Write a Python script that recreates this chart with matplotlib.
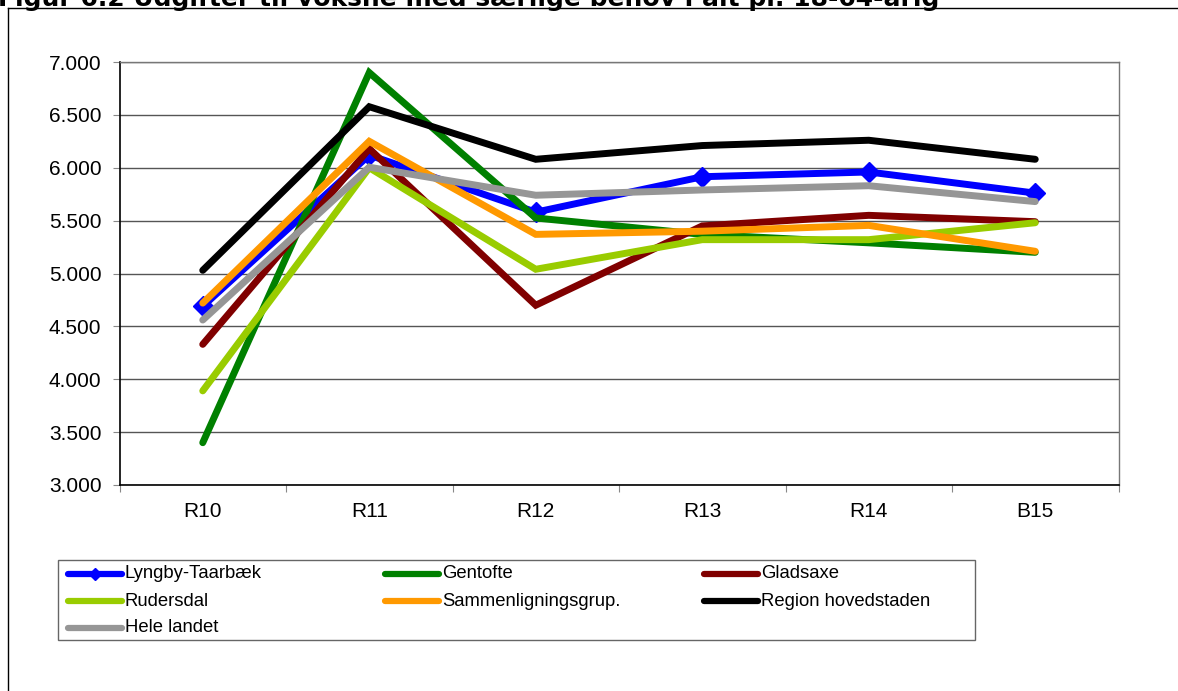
import matplotlib
matplotlib.use("Agg")
import matplotlib.pyplot as plt
from matplotlib.lines import Line2D
from matplotlib.ticker import FuncFormatter, FixedLocator, NullFormatter

categories = ["R10", "R11", "R12", "R13", "R14", "B15"]

lyngby = [4690, 6120, 5580, 5915, 5960, 5760]
gentofte = [3400, 6900, 5525, 5370, 5290, 5200]
gladsaxe = [4330, 6180, 4700, 5450, 5550, 5490]
rudersdal = [3890, 6000, 5040, 5320, 5320, 5480]
sammenl = [4720, 6250, 5370, 5400, 5455, 5210]
region = [5030, 6577, 6080, 6210, 6260, 6080]
hele = [4560, 6005, 5740, 5790, 5830, 5680]

series_names = ["Lyngby-Taarbæk", "Gentofte", "Gladsaxe", "Rudersdal",
                "Sammenligningsgrup.", "Region hovedstaden", "Hele landet"]
series_values = [lyngby, gentofte, gladsaxe, rudersdal, sammenl, region, hele]
colors = ["#0000FF", "#008000", "#800000", "#99CC00", "#FF9900", "#000000", "#969696"]

title = "Figur 6.2 Udgifter til voksne med særlige behov i alt pr. 18-64-årig"

plt.rcParams['font.family'] = ['Liberation Sans', 'DejaVu Sans']

W, H = 1178, 691
fig = plt.figure(figsize=(W / 100, H / 100), dpi=100)

# outer frame (top and left visible)
fig.add_artist(Line2D([8 / W, 1.01], [1 - 8 / H, 1 - 8 / H], transform=fig.transFigure,
                      color="black", lw=1))
fig.add_artist(Line2D([8 / W, 8 / W], [-0.01, 1 - 8 / H], transform=fig.transFigure,
                      color="black", lw=1))

# title, cut off at the top edge as in the reference
fig.text(-2 / W, 1 - 6 / H, title, fontsize=18, fontweight="bold",
         family=["DejaVu Sans"], va="baseline", ha="left")

ax = fig.add_axes([119.5 / W, 1 - 485 / H, 999 / W, 423 / H])
x = list(range(len(categories)))

draw_order = [1, 3, 2, 6, 0, 4, 5]
for i in draw_order:
    if i == 0:
        ax.plot(x, series_values[i], color=colors[i], lw=5, marker="D",
                markersize=10, solid_capstyle="round", zorder=3 + i * 0.1)
    else:
        ax.plot(x, series_values[i], color=colors[i], lw=5,
                solid_capstyle="round", solid_joinstyle="miter", zorder=3 + i * 0.1)

ax.set_xlim(-0.5, len(categories) - 0.5)
ax.set_ylim(3000, 7000)
ax.set_yticks(range(3000, 7001, 500))
ax.yaxis.set_major_formatter(FuncFormatter(lambda v, p: f"{int(v):,}".replace(",", ".")))
ax.grid(axis="y", color="#555555", lw=1)
ax.set_axisbelow(True)

ax.xaxis.set_major_locator(FixedLocator([i - 0.5 for i in range(len(categories) + 1)]))
ax.xaxis.set_major_formatter(NullFormatter())
ax.xaxis.set_minor_locator(FixedLocator(x))
ax.set_xticklabels(categories, minor=True)
ax.tick_params(axis="x", which="minor", length=0, labelsize=15, pad=12)
ax.tick_params(axis="x", which="major", length=5, color="#888888", direction="out")
ax.tick_params(axis="y", length=5, color="#888888", labelsize=15, pad=8)

for s in ["left", "bottom"]:
    ax.spines[s].set_color("black")
    ax.spines[s].set_linewidth(1.2)
for s in ["top", "right"]:
    ax.spines[s].set_color("#777777")
    ax.spines[s].set_linewidth(1)

# legend box drawn in figure coordinates
lx0, ly0, lx1, ly1 = 58, 560, 975, 640
fig.add_artist(plt.Rectangle((lx0 / W, 1 - ly1 / H), (lx1 - lx0) / W, (ly1 - ly0) / H,
                             transform=fig.transFigure, fill=False, edgecolor="#666666", lw=1))
col_x = [68, 385, 704]
row_y = [574, 601, 628]
for k, (name, c) in enumerate(zip(series_names, colors)):
    r, cc = divmod(k, 3)
    xs = col_x[cc]
    yy = 1 - row_y[r] / H
    fig.add_artist(Line2D([xs / W, (xs + 54) / W], [yy, yy], transform=fig.transFigure,
                          color=c, lw=4.5, solid_capstyle="round"))
    if k == 0:
        fig.add_artist(Line2D([(xs + 27) / W], [yy], transform=fig.transFigure,
                              color=c, marker="D", markersize=6, lw=0))
    fig.text((xs + 57) / W, yy, name, fontsize=13.3, va="center", ha="left")

fig.savefig("out.png", dpi=100)
